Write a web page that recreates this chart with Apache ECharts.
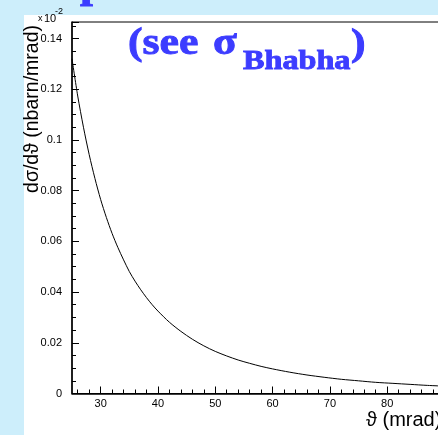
<!DOCTYPE html>
<html>
<head>
<meta charset="utf-8">
<script src="https://cdn.jsdelivr.net/npm/echarts@6/dist/echarts.min.js"></script>
<style>
  html, body { margin: 0; padding: 0; overflow: hidden; background: #cdeefb; }
  #main { width: 460px; height: 435px; }
</style>
</head>
<body>
<div id="main"></div>
<script>
// theta (mrad) and d sigma / d theta (x 10^-2 nbarn/mrad)
const theta = [25, 26, 27, 28, 29, 30, 31, 32, 33, 34, 35, 36, 37, 38, 39, 40,
               42, 44, 46, 48, 50, 52, 54, 56, 58, 60, 63, 66, 69, 72, 75, 78, 81, 84, 87, 90];
const dsigma = [0.1320, 0.1173, 0.1050, 0.0942, 0.0848, 0.0765, 0.0694, 0.0631, 0.0576, 0.0527,
                0.0481, 0.0443, 0.0409, 0.0378, 0.0350, 0.0325, 0.0281, 0.0245, 0.0214, 0.0188,
                0.0166, 0.0148, 0.0132, 0.0119, 0.0107, 0.0097, 0.0084, 0.0073, 0.0064, 0.0056,
                0.0050, 0.0044, 0.0040, 0.0036, 0.0032, 0.0029];
const xMajorTicks = [30, 40, 50, 60, 70, 80, 90];
const xMinorTicks = [26, 28, 30, 32, 34, 36, 38, 40, 42, 44, 46, 48, 50, 52, 54, 56, 58, 60,
                     62, 64, 66, 68, 70, 72, 74, 76, 78, 80, 82, 84, 86, 88, 90];

const chart = echarts.init(document.getElementById('main'));
const sans = 'Liberation Sans';
const serif = 'Liberation Serif';
const blue = '#3c3cff';

function txt(x, y, text, size, opts) {
    opts = opts || {};
    return {
        type: 'text', x: x, y: y, z: 10,
        scaleX: opts.scaleX || 1,
        rotation: opts.rotation || 0,
        style: {
            text: text,
            fontSize: size,
            fontFamily: opts.family || sans,
            fontWeight: opts.weight || 'normal',
            fill: opts.color || '#000',
            stroke: opts.stroke || null,
            lineWidth: opts.stroke ? 0.9 : 0,
            textAlign: opts.align || 'left',
            textVerticalAlign: 'middle'
        }
    };
}

const titleOpts = { family: serif, weight: 'bold', color: blue, stroke: blue, scaleX: 1.15 };

chart.setOption({
    backgroundColor: '#cdeefb',
    animation: false,
    grid: {
        left: 72, top: 22, right: 15.5, bottom: 41.5,
        show: true, borderColor: '#000', borderWidth: 1, backgroundColor: '#fff'
    },
    xAxis: [{
        type: 'value', min: 25, max: 90,
        axisLine: { lineStyle: { color: '#000', width: 1.5 } },
        axisTick: { inside: true, length: 7, customValues: xMajorTicks, lineStyle: { color: '#000' } },
        axisLabel: { customValues: xMajorTicks, color: '#000', fontFamily: sans, fontSize: 11, margin: 5 },
        splitLine: { show: false }
    }, {
        type: 'value', min: 25, max: 90, position: 'bottom', offset: 0,
        axisLine: { show: false },
        axisTick: { inside: true, length: 4, customValues: xMinorTicks, lineStyle: { color: '#000' } },
        axisLabel: { show: false },
        splitLine: { show: false }
    }],
    yAxis: {
        type: 'value', min: 0, max: 0.1465, interval: 0.02,
        axisLine: { show: true, lineStyle: { color: '#000', width: 1.5 } },
        axisTick: { show: true, inside: true, length: 7, lineStyle: { color: '#000' } },
        minorTick: { show: true, splitNumber: 4, length: 4, lineStyle: { color: '#000' } },
        axisLabel: { color: '#000', fontFamily: sans, fontSize: 11, margin: 10, showMaxLabel: false },
        splitLine: { show: false }
    },
    series: [{
        type: 'line',
        data: theta.map((t, i) => [t, dsigma[i]]),
        smooth: 0.3,
        showSymbol: false,
        lineStyle: { color: '#000', width: 1 }
    }],
    graphic: [
        { type: 'rect', z: -10, shape: { x: 24, y: 15, width: 500, height: 500 }, style: { fill: '#fff' } },
        // descender of the cut-off heading above
        txt(80, -13, 'p', 40, titleOpts),
        txt(128, 44, '(see ', 38, titleOpts),
        txt(213, 44, 'σ', 38, titleOpts),
        txt(243, 62, 'Bhabha', 28, titleOpts),
        txt(351, 45, ')', 38, titleOpts),
        // y axis title
        txt(33, 109, 'dσ/dϑ (nbarn/mrad)', 19.5, { rotation: Math.PI / 2, align: 'center' }),
        // x 10^-2
        txt(38, 19, 'x', 9),
        txt(44, 18.5, '10', 11),
        txt(55, 12, '-2', 9),
        // x axis title
        txt(366, 420, 'ϑ (mrad)', 20)
    ]
});
</script>
</body>
</html>
